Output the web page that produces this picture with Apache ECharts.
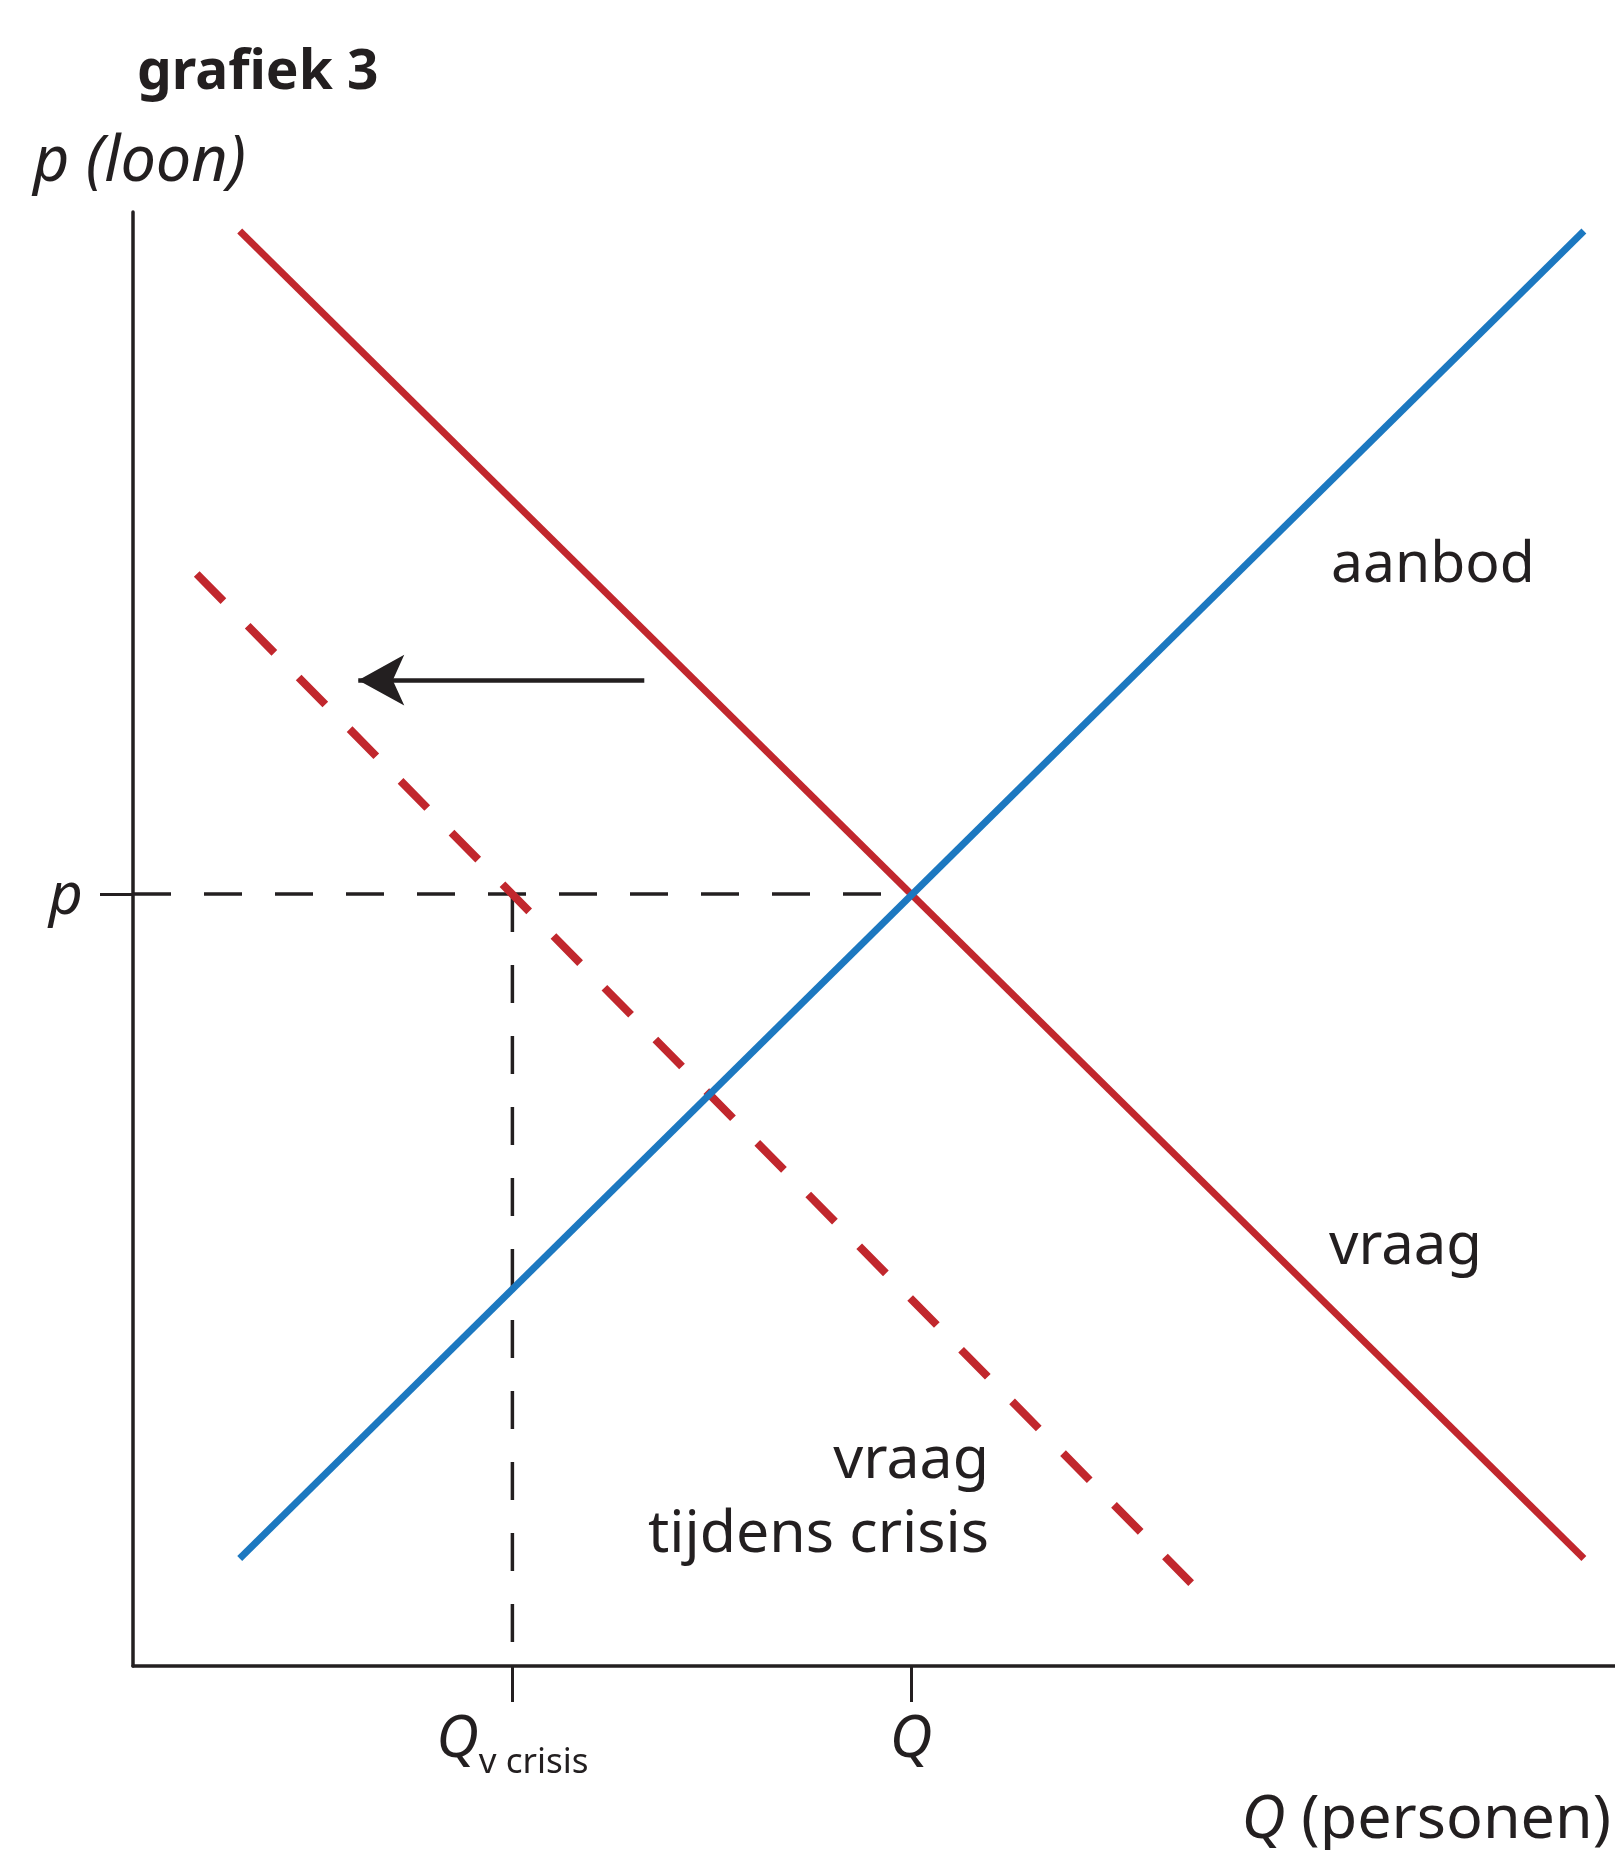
<!DOCTYPE html>
<html>
<head>
<meta charset="utf-8">
<script src="https://cdn.jsdelivr.net/npm/echarts@6/dist/echarts.min.js"></script>
<style>
  html, body { margin: 0; padding: 0; background: #ffffff; }
  #chart { width: 1615px; height: 1850px; }
</style>
</head>
<body>
<div id="chart"></div>
<script>
// ---- data (abstract units, 0..100 on both axes) ----
const demandQ = [7.2, 97.9];
const demandP = [98.7, 7.4];
const supplyQ = [7.2, 97.9];
const supplyP = [7.4, 98.7];
const crisisQ = [4.3, 71.4];
const crisisP = [75.1, 5.7];
const equilibriumQ = 52.5;
const equilibriumP = 53.1;
const crisisQv = 25.6;
const arrowQ = [34.5, 15.2];
const arrowP = [67.8, 67.8];
const xTickLabels = ['Q v crisis', 'Q'];
const yTickLabels = ['p'];

const RED = '#c1272d';
const BLUE = '#1c78c0';
const INK = '#231f20';
const FONT = '"Noto Sans", sans-serif';

const pairs = (xs, ys) => xs.map((x, i) => [x, ys[i]]);

const chart = echarts.init(document.getElementById('chart'), null, { renderer: 'canvas' });

const option = {
  animation: false,
  backgroundColor: '#ffffff',
  title: {
    text: 'grafiek 3',
    left: 137,
    top: 46,
    padding: 0,
    textStyle: { fontFamily: FONT, fontSize: 55, fontWeight: 'bold', color: INK, lineHeight: 55 }
  },
  grid: { left: 133, top: 212, right: 0, bottom: 184, containLabel: false },
  xAxis: {
    type: 'value', min: 0, max: 100,
    axisLine: { show: true, onZero: true, lineStyle: { color: INK, width: 3.5 } },
    splitLine: { show: false },
    axisTick: { show: true, customValues: [crisisQv, equilibriumQ], length: 36, lineStyle: { color: INK, width: 3 } },
    axisLabel: {
      show: true,
      customValues: [crisisQv, equilibriumQ],
      margin: 45,
      formatter: function (v) {
        if (Math.abs(v - crisisQv) < 1e-6) return '{q|Q}{sub|v crisis}';
        return '{q|Q}';
      },
      rich: {
        q: { fontFamily: FONT, fontStyle: 'italic', fontSize: 59, color: INK, lineHeight: 70, verticalAlign: 'top', padding: [0, 0, 20, 0] },
        sub: { fontFamily: FONT, fontSize: 35, color: INK, lineHeight: 30, verticalAlign: 'bottom' }
      }
    }
  },
  yAxis: {
    type: 'value', min: 0, max: 100,
    axisLine: { show: true, onZero: true, lineStyle: { color: INK, width: 3.5 } },
    splitLine: { show: false },
    axisTick: { show: true, customValues: [equilibriumP], length: 33, lineStyle: { color: INK, width: 3 } },
    axisLabel: {
      show: true,
      customValues: [equilibriumP],
      margin: 50,
      formatter: function () { return '{p|' + yTickLabels[0] + '}'; },
      rich: { p: { fontFamily: FONT, fontStyle: 'italic', fontSize: 59, color: INK, padding: [6, 0, 0, 0] } }
    }
  },
  graphic: [
    { type: 'text', style: { text: 'p (loon)', x: 33, y: 163, textAlign: 'left', textVerticalAlign: 'middle', align: 'left', verticalAlign: 'middle', font: 'italic 63px "Noto Sans"', fill: INK } },
    { type: 'text', style: { text: 'aanbod', x: 1331, y: 566, textAlign: 'left', textVerticalAlign: 'middle', align: 'left', verticalAlign: 'middle', font: '57px "Noto Sans"', fill: INK } },
    { type: 'text', style: { text: 'vraag', x: 1329, y: 1247, textAlign: 'left', textVerticalAlign: 'middle', align: 'left', verticalAlign: 'middle', font: '58px "Noto Sans"', fill: INK } },
    { type: 'text', style: { text: 'vraag\ntijdens crisis', x: 989, y: 1424, textAlign: 'right', textVerticalAlign: 'top', align: 'right', verticalAlign: 'top', font: '59px "Noto Sans"', lineHeight: 74, fill: INK } },
    { type: 'text', style: {
        text: '{i|Q} (personen)', x: 1611, y: 1821, textAlign: 'right', textVerticalAlign: 'middle', align: 'right', verticalAlign: 'middle',
        font: '61px "Noto Sans"', fill: INK,
        rich: { i: { fontStyle: 'italic', fontSize: 61, fontFamily: FONT, fill: INK, color: INK } }
      } }
  ],
  series: [
    {
      name: 'p-lijn', type: 'line', symbol: 'none', silent: true,
      data: [[0, equilibriumP], [equilibriumQ, equilibriumP]],
      lineStyle: { color: INK, width: 3.5, type: [38, 33] }
    },
    {
      name: 'Qv-lijn', type: 'line', symbol: 'none', silent: true,
      data: [[crisisQv, equilibriumP], [crisisQv, 0]],
      lineStyle: { color: INK, width: 3.5, type: [38, 33] }
    },
    {
      name: 'vraag', type: 'line', symbol: 'none', silent: true,
      data: pairs(demandQ, demandP),
      lineStyle: { color: RED, width: 7 }
    },
    {
      name: 'vraag tijdens crisis', type: 'line', symbol: 'none', silent: true,
      data: pairs(crisisQ, crisisP),
      lineStyle: { color: RED, width: 8, type: [38, 34.6] },
      markLine: {
        silent: true,
        symbol: ['none', 'arrow'],
        symbolSize: [38, 46],
        label: { show: false },
        lineStyle: { color: INK, width: 4.5, type: 'solid' },
        data: [[{ coord: [arrowQ[0], arrowP[0]] }, { coord: [arrowQ[1], arrowP[1]] }]]
      }
    },
    {
      name: 'aanbod', type: 'line', symbol: 'none', silent: true,
      data: pairs(supplyQ, supplyP),
      lineStyle: { color: BLUE, width: 7 }
    }
  ]
};
chart.setOption(option);
</script>
</body>
</html>
